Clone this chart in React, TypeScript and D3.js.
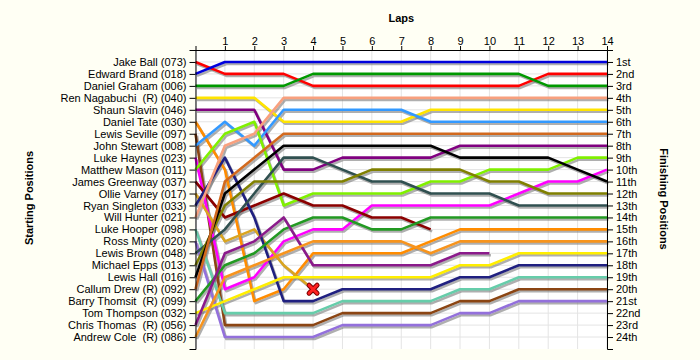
import React, { useEffect, useRef } from "react";
import * as d3 from "d3";

const WIDTH = 700;
const HEIGHT = 360;
const PLOT = { left: 195.5, right: 607, top: 50, bottom: 349 };
const FONT = "'Liberation Sans', Arial, sans-serif";

// lap numbers on the top axis
const lapTicks = [1, 2, 3, 4, 5, 6, 7, 8, 9, 10, 11, 12, 13, 14];

// starting grid, top to bottom
const startNames = [
  "Jake Ball (073)",
  "Edward Brand (018)",
  "Daniel Graham (006)",
  "Ren Nagabuchi  (R) (040)",
  "Shaun Slavin (046)",
  "Daniel Tate (030)",
  "Lewis Seville (097)",
  "John Stewart (008)",
  "Luke Haynes (023)",
  "Matthew Mason (011)",
  "James Greenway (037)",
  "Ollie Varney (017)",
  "Ryan Singleton (033)",
  "Will Hunter (021)",
  "Luke Hooper (098)",
  "Ross Minty (020)",
  "Lewis Brown (048)",
  "Michael Epps (013)",
  "Lewis Hall (016)",
  "Callum Drew (R) (092)",
  "Barry Thomsit  (R) (099)",
  "Tom Thompson (032)",
  "Chris Thomas  (R) (056)",
  "Andrew Cole  (R) (086)",
];

const finishLabels = [
  "1st", "2nd", "3rd", "4th", "5th", "6th", "7th", "8th", "9th", "10th", "11th", "12th",
  "13th", "14th", "15th", "16th", "17th", "18th", "19th", "20th", "21st", "22nd", "23rd", "24th",
];

// position of each driver at lap 0..n
const jakeBall = [1, 2, 2, 2, 3, 3, 3, 3, 3, 3, 3, 3, 2, 2, 2];
const edwardBrand = [2, 1, 1, 1, 1, 1, 1, 1, 1, 1, 1, 1, 1, 1, 1];
const danielGraham = [3, 3, 3, 3, 2, 2, 2, 2, 2, 2, 2, 2, 3, 3, 3];
const renNagabuchi = [4, 4, 4, 6, 6, 6, 6, 6, 5, 5, 5, 5, 5, 5, 5];
const shaunSlavin = [5, 5, 5, 10, 10, 9, 9, 9, 9, 8, 8, 8, 8, 8, 8];
const danielTate = [6, 10, 21, 20, 17, 17, 17, 17, 16, 15, 15, 15, 15, 15, 15];
const lewisSeville = [7, 23, 23, 23, 23, 22, 22, 22, 22, 21, 21, 20, 20, 20, 20];
const johnStewart = [8, 6, 8, 5, 5, 5, 5, 5, 6, 6, 6, 6, 6, 6, 6];
const lukeHaynes = [9, 20, 19, 16, 15, 15, 13, 13, 13, 13, 13, 12, 11, 11, 10];
const matthewMason = [10, 7, 6, 13, 12, 12, 12, 12, 11, 11, 10, 10, 10, 9, 9];
const jamesGreenway = [11, 14, 13, 12, 13, 13, 14, 14, 15];
const ollieVarney = [12, 16, 15, 18, 20];
const ryanSingleton = [13, 9, 14, 21, 21, 20, 20, 20, 20, 19, 19, 18, 18, 18, 18];
const willHunter = [14, 8, 7, 4, 4, 4, 4, 4, 4, 4, 4, 4, 4, 4, 4];
const lukeHooper = [15, 22, 22, 22, 22, 21, 21, 21, 21, 20, 20, 19, 19, 19, 19];
const rossMinty = [16, 24, 24, 24, 24, 23, 23, 23, 23, 22, 22, 21, 21, 21, 21];
const lewisBrown = [17, 15, 12, 9, 9, 10, 11, 11, 12, 12, 12, 13, 13, 13, 13];
const michaelEpps = [18, 13, 11, 11, 11, 11, 10, 10, 10, 10, 11, 11, 12, 12, 12];
const lewisHall = [19, 12, 10, 8, 8, 8, 8, 8, 8, 9, 9, 9, 9, 10, 11];
const callumDrew = [20, 11, 9, 7, 7, 7, 7, 7, 7, 7, 7, 7, 7, 7, 7];
const barryThomsit = [21, 18, 17, 15, 14, 14, 15, 15, 14, 14, 14, 14, 14, 14, 14];
const tomThompson = [22, 21, 20, 19, 19, 19, 19, 19, 19, 18, 18, 17, 17, 17, 17];
const chrisThomas = [23, 17, 16, 14, 18, 18, 18, 18, 18, 17, 17];
const andrewCole = [24, 19, 18, 17, 16, 16, 16, 16, 17, 16, 16, 16, 16, 16, 16];

const lineColors = [
  "#ff0000", "#0000dd", "#009900", "#ffe400", "#800080", "#ff8c00",
  "#8b4513", "#3399ff", "#ff00ff", "#80f000", "#8b0000", "#daa520",
  "#202080", "#f8a07e", "#66cdaa", "#9370db", "#305050", "#808000",
  "#000000", "#d2691e", "#229922", "#ffee00", "#8b1a8b", "#f7941d",
];

// drivers who crashed out get a cross at their last lap
const crashed = ["Ollie Varney (017)"];

const series = [
  jakeBall, edwardBrand, danielGraham, renNagabuchi, shaunSlavin, danielTate,
  lewisSeville, johnStewart, lukeHaynes, matthewMason, jamesGreenway, ollieVarney,
  ryanSingleton, willHunter, lukeHooper, rossMinty, lewisBrown, michaelEpps,
  lewisHall, callumDrew, barryThomsit, tomThompson, chrisThomas, andrewCole,
].map((laps, i) => ({ name: startNames[i], color: lineColors[i], laps }));

export default function App() {
  const topRef = useRef<SVGGElement>(null);
  const leftRef = useRef<SVGGElement>(null);
  const rightRef = useRef<SVGGElement>(null);

  const x = d3.scaleLinear().domain([0, 14]).range([PLOT.left, PLOT.right]);
  const y = d3.scaleLinear().domain([0, 25]).range([PLOT.top, PLOT.bottom]);
  const rows = d3.range(1, startNames.length + 1);

  const line = d3
    .line<number>()
    .x((_, i) => x(i))
    .y((d) => y(d));

  useEffect(() => {
    const top = d3.axisTop(x).tickValues(lapTicks).tickSize(4).tickSizeOuter(4).tickPadding(1);
    d3.select(topRef.current).call(top as any);

    const left = d3
      .axisLeft(y)
      .tickValues(rows)
      .tickSize(6)
      .tickSizeOuter(6)
      .tickPadding(3)
      .tickFormat((d) => startNames[(d as number) - 1]);
    d3.select(leftRef.current).call(left as any);

    const right = d3
      .axisRight(y)
      .tickValues(rows)
      .tickSize(6)
      .tickSizeOuter(6)
      .tickPadding(3)
      .tickFormat((d) => finishLabels[(d as number) - 1]);
    d3.select(rightRef.current).call(right as any);

    [topRef, leftRef, rightRef].forEach((r) => {
      const g = d3.select(r.current);
      g.attr("font-family", FONT).attr("font-size", 11);
      g.selectAll("text").attr("fill", "#000").style("white-space", "pre");
      g.selectAll("path,line").attr("stroke", "#000");
    });
  }, []);

  return (
    <svg
      width={WIDTH}
      height={HEIGHT}
      style={{ position: "absolute", left: 0, top: 0 }}
      fontFamily={FONT}
    >
      <rect width={WIDTH} height={HEIGHT} fill="#fffff4" />
      <rect
        x={PLOT.left}
        y={PLOT.top}
        width={PLOT.right - PLOT.left}
        height={PLOT.bottom - PLOT.top}
        fill="#ffffff"
      />
      <g stroke="#e4e4e4" strokeWidth={1}>
        {d3.range(0, 15).map((l) => (
          <line key={"v" + l} x1={x(l)} x2={x(l)} y1={PLOT.top} y2={PLOT.bottom} />
        ))}
        {rows.map((r) => (
          <line key={"h" + r} x1={PLOT.left} x2={PLOT.right} y1={y(r)} y2={y(r)} />
        ))}
      </g>

      <g transform="translate(1.5,2)" fill="none" strokeLinejoin="round">
        {series.map((s) => (
          <path key={"s" + s.name} d={line(s.laps) || ""} stroke="#7a7a7a" strokeOpacity={0.6} strokeWidth={2.6} />
        ))}
      </g>
      <g fill="none" strokeLinejoin="round">
        {series.map((s) => (
          <path key={s.name} d={line(s.laps) || ""} stroke={s.color} strokeWidth={2.6} />
        ))}
      </g>

      {series
        .filter((s) => crashed.includes(s.name))
        .map((s) => {
          const cx = x(s.laps.length - 1);
          const cy = y(s.laps[s.laps.length - 1]);
          const r = 4;
          const cross = `M${cx - r},${cy - r}L${cx + r},${cy + r}M${cx - r},${cy + r}L${cx + r},${cy - r}`;
          return (
            <g key={"x" + s.name}>
              <path d={cross} stroke="#7a0000" strokeWidth={5} strokeLinecap="round" />
              <path d={cross} stroke="#ff2020" strokeWidth={3} strokeLinecap="round" />
            </g>
          );
        })}

      <g ref={topRef} transform={`translate(0,${PLOT.top})`} />
      <g ref={leftRef} transform={`translate(${PLOT.left},0)`} />
      <g ref={rightRef} transform={`translate(${PLOT.right},0)`} />

      <text x={(PLOT.left + PLOT.right) / 2} y={22} textAnchor="middle" fontWeight="bold" fontSize={11}>
        Laps
      </text>
      <text transform="translate(33,198) rotate(-90)" textAnchor="middle" fontWeight="bold" fontSize={11}>
        Starting Positions
      </text>
      <text transform="translate(660,199) rotate(90)" textAnchor="middle" fontWeight="bold" fontSize={11}>
        Finishing Positions
      </text>
    </svg>
  );
}
